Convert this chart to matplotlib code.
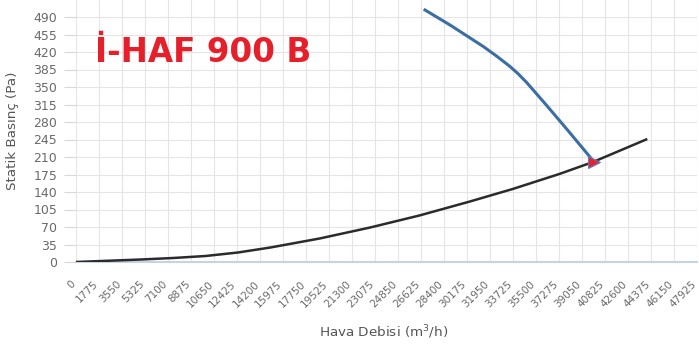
import numpy as np
import matplotlib.pyplot as plt
import matplotlib.transforms as mtransforms

# system curve (air flow m3/h, static pressure Pa)
sys_flow = [0, 2500, 5000, 7500, 10000, 12500, 15000, 18800, 22700, 26500,
            30400, 33700, 37300, 39900, 44000]
sys_pres = [0, 2.5, 5, 8, 12, 19, 29, 47, 69, 93, 121, 146, 176, 200, 245]

# fan curve
fan_flow = [26935, 28865, 31434, 32500, 33493, 34100, 34780, 36325, 37868,
            39412, 39950]
fan_pres = [504, 474, 431, 411, 391, 377, 359, 313, 266, 218, 201]

# operating point
op_flow = [39950]
op_pres = [200]

x_ticks = [0, 1775, 3550, 5325, 7100, 8875, 10650, 12425, 14200, 15975, 17750,
           19525, 21300, 23075, 24850, 26625, 28400, 30175, 31950, 33725, 35500,
           37275, 39050, 40825, 42600, 44375, 46150, 47925]
y_ticks = [0, 35, 70, 105, 140, 175, 210, 245, 280, 315, 350, 385, 420, 455, 490]

title = "İ-HAF 900 B"
xlabel = "Hava Debisi (m$^3$/h)"
ylabel = "Statik Basınç (Pa)"

W, H = 699, 354
fig = plt.figure(figsize=(W / 100, H / 100), dpi=100)
ax = fig.add_axes([76 / W, 1 - 262 / H, (697 - 76) / W, 262 / H])

ax.plot(sys_flow, sys_pres, color='#2b2b2b', lw=1.8, zorder=3)
ax.plot(fan_flow, fan_pres, color='#3b6ea5', lw=2.2, zorder=4)
ax.plot(op_flow, op_pres, marker='>', color='#e8232e', mec='#5b7fc0', mew=0.8,
        ms=8, ls='none', zorder=5)

ax.set_xlim(0, 47925)
ax.set_ylim(0, 524)
ax.set_xticks(x_ticks)
ax.set_yticks(y_ticks)
ax.set_xticklabels([str(v) for v in x_ticks], rotation=45, ha='right',
                   va='top', rotation_mode='anchor')
ax.tick_params(axis='x', length=0, pad=12, labelsize=7.5, labelcolor='#6a6a6a')
ax.tick_params(axis='y', length=9, width=0.8, color='#d8d8d8', pad=4.5,
               labelsize=9, labelcolor='#6a6a6a')
# shift the slanted labels a bit left
off = mtransforms.ScaledTranslation(-6 / 100, 0, fig.dpi_scale_trans)
for lab in ax.get_xticklabels():
    lab.set_transform(lab.get_transform() + off)
ax.grid(True, color='#e9e4e4', lw=0.8)
ax.set_axisbelow(True)
for s in ['top', 'right', 'left']:
    ax.spines[s].set_visible(False)
ax.spines['bottom'].set_color('#c5d3e6')
ax.spines['bottom'].set_linewidth(1.5)

fig.text(384 / W, 1 - 332 / H, xlabel, ha='center', va='center',
         fontsize=9.7, color='#555555')
fig.text(13 / W, 1 - 131 / H, ylabel, ha='center', va='center', rotation=90,
         fontsize=9.7, color='#555555')
fig.text(95 / W, 1 - 62 / H, title, ha='left', va='baseline', fontsize=23.5,
         fontweight='bold', family='DejaVu Sans', color='#e5202b')

fig.savefig('out.png', dpi=100)
